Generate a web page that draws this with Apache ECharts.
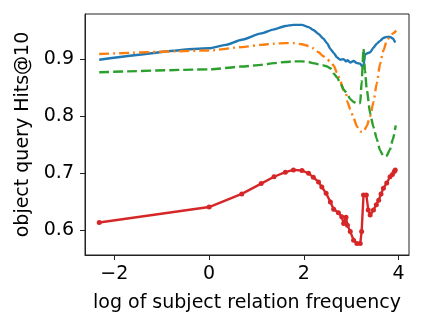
<!DOCTYPE html>
<html>
<head>
<meta charset="utf-8">
<script src="https://cdn.jsdelivr.net/npm/echarts@6/dist/echarts.min.js"></script>
<style>
  html, body { margin: 0; padding: 0; background: #fff; }
  #chart { width: 423px; height: 328px; }
</style>
</head>
<body>
<div id="chart"></div>
<script>
// tick labels
var xTicks = [-2, 0, 2, 4];
var yTicks = [0.6, 0.7, 0.8, 0.9];

// blue solid line
var blueX = [-2.32, 0, 0.35, 0.69, 1.10, 1.37, 1.61, 1.78, 1.96, 2.10, 2.20, 2.31, 2.41, 2.49, 2.56, 2.63, 2.70, 2.77, 2.84, 2.89, 2.92, 2.98, 3.05, 3.12, 3.19, 3.22, 3.26, 3.29, 3.33, 3.40, 3.47, 3.54, 3.61, 3.68, 3.75, 3.82, 3.88, 3.93];
var blueY = [0.899, 0.919, 0.925, 0.934, 0.945, 0.952, 0.958, 0.960, 0.960, 0.956, 0.951, 0.944, 0.936, 0.928, 0.918, 0.911, 0.903, 0.899, 0.900, 0.896, 0.898, 0.894, 0.897, 0.893, 0.892, 0.888, 0.889, 0.908, 0.910, 0.912, 0.920, 0.927, 0.932, 0.937, 0.939, 0.939, 0.936, 0.929];

// orange dash-dot line
var orangeX = [-2.32, 0, 0.69, 1.10, 1.37, 1.61, 1.78, 1.96, 2.10, 2.20, 2.31, 2.41, 2.49, 2.56, 2.63, 2.70, 2.77, 2.84, 2.89, 2.92, 2.98, 3.05, 3.12, 3.19, 3.26, 3.33, 3.40, 3.47, 3.54, 3.61, 3.68, 3.75, 3.82, 3.88, 3.95];
var orangeY = [0.909, 0.915, 0.921, 0.925, 0.927, 0.928, 0.928, 0.926, 0.923, 0.919, 0.912, 0.905, 0.900, 0.895, 0.889, 0.876, 0.862, 0.845, 0.840, 0.825, 0.812, 0.797, 0.782, 0.773, 0.773, 0.783, 0.800, 0.825, 0.858, 0.892, 0.915, 0.932, 0.940, 0.945, 0.950];

// green dashed line
var greenX = [-2.32, 0, 0.69, 1.10, 1.37, 1.61, 1.78, 1.96, 2.10, 2.20, 2.31, 2.41, 2.49, 2.56, 2.63, 2.70, 2.77, 2.84, 2.89, 2.92, 2.98, 3.05, 3.12, 3.19, 3.22, 3.26, 3.29, 3.33, 3.40, 3.47, 3.54, 3.61, 3.68, 3.75, 3.82, 3.88, 3.94];
var greenY = [0.877, 0.882, 0.887, 0.890, 0.893, 0.895, 0.896, 0.896, 0.895, 0.893, 0.891, 0.889, 0.887, 0.884, 0.875, 0.868, 0.858, 0.847, 0.842, 0.838, 0.830, 0.825, 0.822, 0.823, 0.860, 0.918, 0.880, 0.846, 0.805, 0.781, 0.760, 0.740, 0.730, 0.731, 0.742, 0.760, 0.784];

// red line with markers
var redX = [-2.32, 0, 0.69, 1.10, 1.37, 1.61, 1.78, 1.96, 2.10, 2.20, 2.31, 2.38, 2.47, 2.56, 2.63, 2.73, 2.80, 2.84, 2.89, 2.92, 2.98, 3.05, 3.12, 3.19, 3.22, 3.26, 3.32, 3.36, 3.40, 3.47, 3.53, 3.58, 3.63, 3.68, 3.75, 3.82, 3.87, 3.91, 3.93];
var redY = [0.614, 0.641, 0.664, 0.682, 0.694, 0.702, 0.706, 0.705, 0.700, 0.693, 0.685, 0.676, 0.665, 0.650, 0.637, 0.631, 0.624, 0.612, 0.623, 0.609, 0.598, 0.583, 0.577, 0.577, 0.598, 0.662, 0.662, 0.636, 0.627, 0.636, 0.645, 0.653, 0.664, 0.674, 0.683, 0.694, 0.698, 0.703, 0.706];

function pairs(xs, ys) {
  return xs.map(function (x, i) { return [x, ys[i]]; });
}

var FONT = 'DejaVu Sans';

var chart = echarts.init(document.getElementById('chart'));
var option = {
  animation: false,
  grid: {
    left: 85, right: 14, top: 14, bottom: 73,
    show: true, borderColor: '#222', borderWidth: 1, backgroundColor: '#fff'
  },
  xAxis: {
    type: 'value',
    min: -2.62, max: 4.22,
    name: 'log of subject relation frequency',
    nameLocation: 'middle',
    nameGap: 39,
    nameTextStyle: { color: '#000', fontSize: 19, fontFamily: FONT },
    splitLine: { show: false },
    axisLine: { show: true, onZero: false, lineStyle: { color: '#222', width: 1 } },
    axisTick: { show: true, length: 5, lineStyle: { color: '#222' }, customValues: xTicks },
    axisLabel: {
      color: '#000', fontSize: 19, fontFamily: FONT, margin: 10,
      customValues: xTicks,
      formatter: function (v) { return v < 0 ? '\u2212' + Math.abs(v) : String(v); }
    }
  },
  yAxis: {
    type: 'value',
    min: 0.557, max: 0.979,
    name: 'object query Hits@10',
    nameLocation: 'middle',
    nameGap: 51,
    nameTextStyle: { color: '#000', fontSize: 19, fontFamily: FONT },
    splitLine: { show: false },
    axisLine: { show: true, onZero: false, lineStyle: { color: '#222', width: 1 } },
    axisTick: { show: true, length: 5, lineStyle: { color: '#222' }, customValues: yTicks },
    axisLabel: {
      color: '#000', fontSize: 19, fontFamily: FONT, margin: 11,
      customValues: yTicks,
      formatter: function (v) { return v.toFixed(1); }
    }
  },
  series: [
    {
      type: 'line', data: pairs(blueX, blueY), showSymbol: false, smooth: 0.2, smoothMonotone: 'x',
      lineStyle: { color: '#1f77b4', width: 2.4 }
    },
    {
      type: 'line', data: pairs(orangeX, orangeY), showSymbol: false, smooth: 0.2, smoothMonotone: 'x',
      lineStyle: { color: '#ff7f0e', width: 2.4, type: [10, 4, 2, 4] }
    },
    {
      type: 'line', data: pairs(greenX, greenY), showSymbol: false, smooth: 0.2, smoothMonotone: 'x',
      lineStyle: { color: '#2ca02c', width: 2.4, type: [10, 4] }
    },
    {
      type: 'line', data: pairs(redX, redY), symbol: 'circle', symbolSize: 5,
      itemStyle: { color: '#d62728' },
      lineStyle: { color: '#d62728', width: 2.4 }
    }
  ]
};
option && chart.setOption(option);
</script>
</body>
</html>
